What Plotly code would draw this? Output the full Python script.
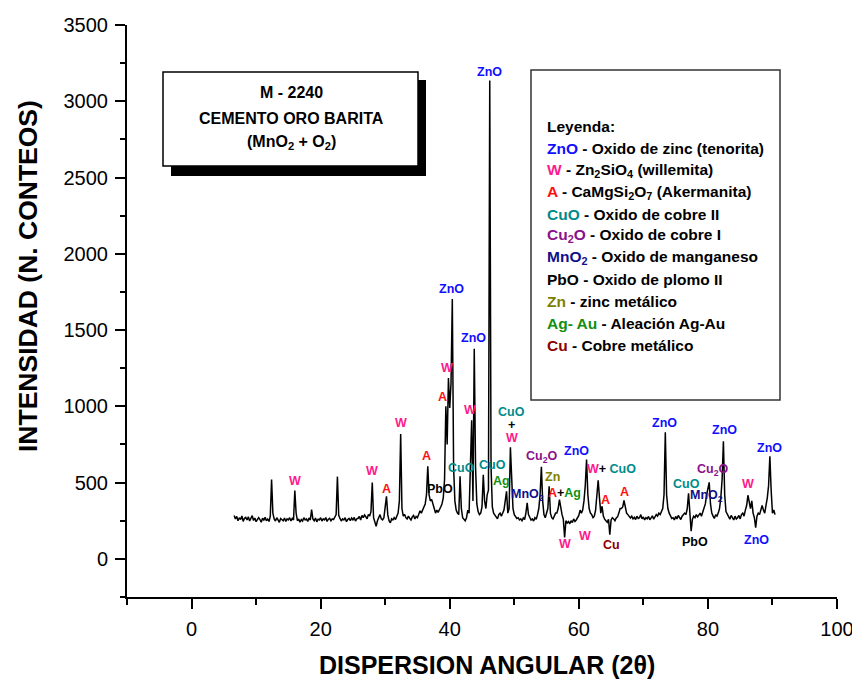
import plotly.graph_objects as go

# ---------------- data ----------------
# XRD pattern, sampled every 0.2 deg 2-theta starting at 6.6
start_2theta = 6.6
step_2theta = 0.2
counts = [
    285, 262, 278, 250, 270, 258, 281, 246, 266, 272,   # 6.6 - 8.4
    255, 276, 248, 265, 283, 252, 268, 244, 262, 270,   # 8.6 - 10.4
    258, 240, 266, 255, 272, 250, 261, 245, 280, 520,   # 10.6 - 12.4
    300, 262, 248, 270, 255, 240, 265, 258, 250, 268,   # 12.6 - 14.4
    245, 262, 256, 270, 248, 265, 255, 448, 300, 250,   # 14.6 - 16.4
    262, 240, 258, 248, 270, 255, 262, 245, 268, 255,   # 16.6 - 18.4
    323, 262, 250, 268, 243, 260, 255, 270, 248, 262,   # 18.6 - 20.4
    256, 271, 245, 260, 266, 250, 262, 258, 275, 290,   # 20.6 - 22.4
    539, 285, 265, 248, 262, 255, 270, 244, 258, 265,   # 22.6 - 24.4
    250, 268, 256, 272, 248, 262, 266, 278, 255, 285,   # 24.6 - 26.4
    270, 288, 276, 262, 292, 280, 310, 500, 270, 232,   # 26.6 - 28.4
    214, 250, 268, 290, 262, 255, 270, 330, 410, 290,   # 28.6 - 30.4
    250, 236, 262, 255, 270, 258, 285, 300, 380, 819,   # 30.6 - 32.4
    330, 280, 292, 270, 262, 280, 266, 255, 275, 285,   # 32.6 - 34.4
    262, 278, 270, 290, 315, 300, 325, 340, 360, 420,   # 34.6 - 36.4
    607, 420, 380, 390, 350, 330, 300, 320, 305, 330,   # 36.6 - 38.4
    340, 360, 400, 520, 1000, 750, 1186, 990, 1150, 1704,  # 38.6 - 40.4
    600, 380, 320, 300, 290, 541, 330, 270, 262, 250,   # 40.6 - 42.4
    270, 320, 300, 600, 908, 380, 1378, 600, 360, 310,  # 42.6 - 44.4
    290, 300, 340, 552, 380, 330, 420, 450, 3136, 600,  # 44.6 - 46.4
    340, 300, 285, 270, 262, 290, 300, 280, 300, 320,   # 46.6 - 48.4
    380, 443, 300, 330, 731, 450, 330, 290, 275, 265,   # 48.6 - 50.4
    270, 255, 262, 250, 268, 258, 300, 367, 290, 270,   # 50.6 - 52.4
    255, 262, 248, 270, 260, 290, 330, 420, 603, 380,   # 52.6 - 54.4
    290, 270, 300, 330, 476, 300, 270, 262, 280, 300,   # 54.6 - 56.4
    300, 330, 389, 330, 290, 260, 140, 250, 235, 245,   # 56.6 - 58.4
    230, 250, 238, 262, 245, 255, 270, 285, 320, 300,   # 58.6 - 60.4
    320, 380, 480, 651, 420, 330, 300, 290, 270, 280,   # 60.6 - 62.4
    320, 400, 515, 400, 300, 345, 280, 260, 250, 240,   # 62.6 - 64.4
    260, 159, 255, 270, 262, 250, 268, 275, 300, 330,   # 64.6 - 66.4
    330, 340, 384, 330, 300, 290, 275, 268, 280, 262,   # 66.6 - 68.4
    272, 258, 280, 265, 270, 290, 262, 275, 255, 270,   # 68.6 - 70.4
    262, 278, 256, 268, 282, 260, 272, 290, 280, 300,   # 70.6 - 72.4
    290, 310, 330, 420, 830, 420, 330, 300, 280, 265,   # 72.6 - 74.4
    270, 255, 278, 262, 285, 270, 258, 280, 290, 300,   # 74.6 - 76.4
    290, 330, 430, 300, 181, 260, 280, 270, 290, 275,   # 76.6 - 78.4
    285, 300, 280, 310, 330, 360, 420, 460, 502, 360,   # 78.6 - 80.4
    300, 280, 265, 290, 280, 300, 330, 400, 520, 771,   # 80.6 - 82.4
    420, 310, 290, 275, 260, 285, 270, 255, 280, 262,   # 82.6 - 84.4
    270, 285, 262, 290, 300, 280, 320, 350, 417, 360,   # 84.6 - 86.4
    330, 380, 300, 270, 205, 280, 300, 290, 320, 350,   # 86.6 - 88.4
    320, 300, 350, 400, 480, 673, 450, 300, 320, 290,   # 88.6 - 90.4
]
two_theta = [round(start_2theta + step_2theta * i, 1) for i in range(len(counts))]

x_tick_values = [0, 20, 40, 60, 80, 100]
x_minor_values = [-10, 10, 30, 50, 70, 90]
y_tick_values = [0, 500, 1000, 1500, 2000, 2500, 3000, 3500]
y_minor_values = [-250, 250, 750, 1250, 1750, 2250, 2750, 3250]

x_title = "DISPERSION ANGULAR (2θ)"
y_title = "INTENSIDAD (N. CONTEOS)"
box_lines = ["M - 2240", "CEMENTO ORO BARITA", "(MnO<sub>2</sub> + O<sub>2</sub>)"]

# phase colours
C = {
    "ZnO": "#1010ff", "W": "#ff1a8c", "A": "#ff1010", "CuO": "#008b8b",
    "Cu2O": "#8b108b", "MnO2": "#10108b", "PbO": "#000000", "Zn": "#808000",
    "Ag": "#109010", "Cu": "#8b0000", "k": "#000000",
}

def span(t, c):
    return f'<span style="color:{C[c]}">{t}</span>'

legend_lines = [
    "Leyenda:",
    span("ZnO", "ZnO") + " - Oxido de zinc (tenorita)",
    span("W", "W") + " - Zn<sub>2</sub>SiO<sub>4</sub> (willemita)",
    span("A", "A") + " - CaMgSi<sub>2</sub>O<sub>7</sub> (Akermanita)",
    span("CuO", "CuO") + " - Oxido de cobre II",
    span("Cu<sub>2</sub>O", "Cu2O") + " - Oxido de cobre I",
    span("MnO<sub>2</sub>", "MnO2") + " - Oxido de manganeso",
    "PbO - Oxido de plomo II",
    span("Zn", "Zn") + " - zinc metálico",
    span("Ag- Au", "Ag") + " - Aleación Ag-Au",
    span("Cu", "Cu") + " - Cobre metálico",
]

# peak labels: (text, 2theta, counts, colour key)
peak_labels = [
    ("W", 16.0, 513, "W"), ("W", 28.0, 576, "W"), ("A", 30.2, 457, "A"),
    ("W", 32.45, 889, "W"), ("A", 36.45, 674, "A"), ("PbO", 38.5, 457, "PbO"),
    ("A", 38.9, 1062, "A"), ("W", 39.5, 1251, "W"), ("ZnO", 40.3, 1772, "ZnO"),
    ("CuO", 41.9, 597, "CuO"), ("W", 43.15, 976, "W"), ("ZnO", 43.7, 1451, "ZnO"),
    ("CuO", 46.55, 618, "CuO"), ("ZnO", 46.2, 3193, "ZnO"),
    ("CuO", 49.6, 964, "CuO"), ("+", 49.6, 875, "k"), ("W", 49.6, 794, "W"),
    ("Ag", 48.05, 508, "Ag"), ("MnO<sub>2</sub>", 52.1, 421, "MnO2"),
    ("Cu<sub>2</sub>O", 54.25, 671, "Cu2O"), ("Zn", 55.85, 538, "Zn"),
    (span("A", "A") + span("+", "k") + span("Ag", "Ag"), 57.8, 432, "k"),
    ("ZnO", 59.7, 710, "ZnO"),
    (span("W", "W") + span("+ ", "k") + span("CuO", "CuO"), 65.0, 592, "k"),
    ("A", 64.2, 384, "A"), ("A", 67.0, 437, "A"),
    ("W", 57.9, 98, "W"), ("W", 60.9, 148, "W"), ("Cu", 65.0, 94, "Cu"),
    ("ZnO", 73.2, 891, "ZnO"), ("CuO", 76.7, 493, "CuO"),
    ("MnO<sub>2</sub>", 79.8, 410, "MnO2"), ("Cu<sub>2</sub>O", 80.8, 581, "Cu2O"),
    ("ZnO", 82.5, 847, "ZnO"), ("W", 86.2, 493, "W"), ("ZnO", 89.5, 727, "ZnO"),
    ("PbO", 78.0, 111, "PbO"), ("ZnO", 87.55, 122, "ZnO"),
]

# ---------------- layout geometry ----------------
# the page body adds an 8px offset, so the figure is 8px smaller and shifted
OFF = 8
W, H = 860 - OFF, 680 - OFF
# plot area in window pixels (reference coordinates)
RL, RR, RT, RB = 127, 837, 25, 597
FONT = "Liberation Sans, Arial, sans-serif"

def px(x):
    return (x - RL) / (RR - RL)

def py(y):
    return (RB - y) / (RB - RT)

fig = go.Figure()
fig.add_trace(go.Scatter(
    x=two_theta, y=counts, mode="lines",
    line=dict(color="black", width=1.5), hoverinfo="x+y", showlegend=False,
))

shapes = [
    # title box shadow + box
    dict(type="rect", xref="paper", yref="paper", x0=px(171), x1=px(426),
         y0=py(176), y1=py(80), fillcolor="black", line=dict(width=0), layer="above"),
    dict(type="rect", xref="paper", yref="paper", x0=px(163), x1=px(418),
         y0=py(166), y1=py(72), fillcolor="white", line=dict(color="black", width=1.5),
         layer="above"),
    # legend box
    dict(type="rect", xref="paper", yref="paper", x0=px(531), x1=px(780),
         y0=py(400), y1=py(70), fillcolor="white", line=dict(color="#333333", width=1.5),
         layer="above"),
]

annotations = []
for i, t in enumerate(box_lines):
    annotations.append(dict(
        text=t, xref="paper", yref="paper", x=px(291), y=py([93, 118, 142][i]),
        xanchor="center", yanchor="middle", showarrow=False,
        font=dict(family=FONT, size=16, color="black", weight="bold"),
    ))
for i, t in enumerate(legend_lines):
    annotations.append(dict(
        text=t, xref="paper", yref="paper", x=px(545), y=py(126.5 + 21.9 * i),
        xanchor="left", yanchor="middle", showarrow=False,
        font=dict(family=FONT, size=15.5, color="black", weight="bold"),
    ))
for t, x, y, c in peak_labels:
    annotations.append(dict(
        text=t, x=x, y=y, xref="x", yref="y", xanchor="center", yanchor="middle",
        showarrow=False, font=dict(family=FONT, size=12.5, color=C[c], weight="bold"),
    ))
# axis titles
annotations.append(dict(
    text=x_title, xref="paper", yref="paper", x=px(487), y=py(665),
    xanchor="center", yanchor="middle", showarrow=False,
    font=dict(family=FONT, size=25, color="black", weight="bold"),
))
annotations.append(dict(
    text=y_title, xref="paper", yref="paper", x=px(28), y=py(276), textangle=-90,
    xanchor="center", yanchor="middle", showarrow=False,
    font=dict(family=FONT, size=26.5, color="black", weight="bold"),
))

axis_common = dict(
    showline=True, linecolor="black", linewidth=2, ticks="outside", ticklen=10,
    tickwidth=2, tickcolor="black", showgrid=False, zeroline=False, automargin=False,
    tickfont=dict(family=FONT, size=20, color="black"), ticklabelstandoff=3,
)

fig.update_layout(
    template="none",
    width=W, height=H,
    margin=dict(l=RL - OFF, r=860 - RR, t=RT - OFF, b=680 - RB, pad=0, autoexpand=False),
    paper_bgcolor="white", plot_bgcolor="white",
    shapes=shapes, annotations=annotations, showlegend=False,
    font=dict(family=FONT, color="black"),
    xaxis=dict(
        range=[-10, 100], tickvals=x_tick_values, ticktext=[str(v) for v in x_tick_values],
        minor=dict(tickvals=x_minor_values, ticks="outside", ticklen=6, tickwidth=2,
                   tickcolor="black", showgrid=False),
        **axis_common,
    ),
    yaxis=dict(
        range=[-250, 3500], tickvals=y_tick_values, ticktext=[str(v) for v in y_tick_values],
        minor=dict(tickvals=y_minor_values, ticks="outside", ticklen=5, tickwidth=2,
                   tickcolor="black", showgrid=False),
        **axis_common,
    ),
)

fig.write_html("out.html")
